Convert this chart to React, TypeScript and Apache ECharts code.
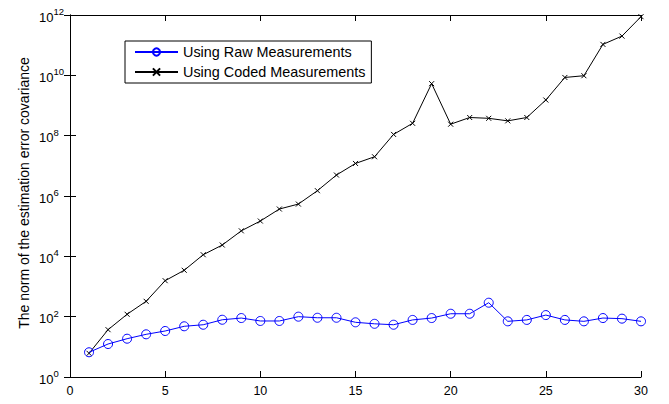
import React, { useEffect, useRef } from "react";
import * as echarts from "echarts";

const steps = [1, 2, 3, 4, 5, 6, 7, 8, 9, 10, 11, 12, 13, 14, 15, 16, 17, 18, 19, 20, 21, 22, 23, 24, 25, 26, 27, 28, 29, 30];
const rawValues = [6.6, 12.4, 18.6, 26, 33.5, 48, 54, 79, 90, 72, 72, 100, 92, 92, 65, 58, 54, 78, 90, 125, 125, 290, 70, 78, 113, 78, 70, 90, 86, 70];
const codedValues = [6.1, 37, 120, 323, 1560, 3450, 11300, 23700, 70000, 148000, 370000, 540000, 1.5e6, 4.95e6, 1.2e7, 2.0e7, 1.1e8, 2.57e8, 5.3e9, 2.4e8, 4.0e8, 3.76e8, 3.1e8, 4.0e8, 1.52e9, 8.5e9, 9.7e9, 1.06e11, 2.0e11, 8.8e11];
const seriesNames = ["Using Raw Measurements", "Using Coded Measurements"];
const yTitle = "The norm of the estimation error covariance";

const FONT = "'Liberation Sans', Arial, sans-serif";

export default function App() {
  const ref = useRef<HTMLDivElement>(null);
  useEffect(() => {
    if (!ref.current) return;
    const chart = echarts.init(ref.current, null, { renderer: "svg" });
    const axisLine = { show: true, lineStyle: { color: "#000", width: 1 } };
    const tick = { show: true, inside: true, length: 6, lineStyle: { color: "#000", width: 1 } };
    const supFmt = (v: number) => "{base|10}{sup|" + Math.round(Math.log10(v)) + "}";
    chart.setOption({
      animation: false,
      textStyle: { fontFamily: FONT },
      grid: { left: 70, right: 28, top: 15, bottom: 27, containLabel: false, outerBoundsMode: "none" },
      legend: {
        left: 125,
        top: 41,
        orient: "vertical",
        itemWidth: 43,
        itemHeight: 9,
        itemGap: 6,
        padding: [4, 6, 4, 9],
        borderColor: "#000",
        borderWidth: 1,
        backgroundColor: "#fff",
        textStyle: { fontSize: 14.4, color: "#000", fontFamily: FONT },
        data: seriesNames,
      },
      xAxis: [
        {
          type: "value",
          min: 0,
          max: 30,
          interval: 5,
          axisLine,
          axisTick: tick,
          splitLine: { show: false },
          axisLabel: { fontSize: 12.5, color: "#000", margin: 7, fontFamily: FONT },
        },
        {
          type: "value",
          position: "top",
          min: 0,
          max: 30,
          interval: 5,
          axisLine,
          axisTick: tick,
          splitLine: { show: false },
          axisLabel: { show: false },
        },
      ],
      yAxis: [
        {
          type: "log",
          logBase: 10,
          min: 1,
          max: 1e12,
          interval: 2,
          axisLine,
          axisTick: tick,
          splitLine: { show: false },
          minorTick: { show: false },
          axisLabel: {
            color: "#000",
            margin: 31,
            align: "left",
            fontFamily: FONT,
            fontSize: 13,
            formatter: supFmt,
            rich: {
              base: { fontSize: 13, padding: [4, 0, 0, 0], fontFamily: FONT, color: "#000" },
              sup: { fontSize: 9.5, padding: [0, 0, 7, 0], fontFamily: FONT, color: "#000" },
            },
          },
        },
        {
          type: "log",
          logBase: 10,
          position: "right",
          min: 1,
          max: 1e12,
          interval: 2,
          axisLine,
          axisTick: tick,
          splitLine: { show: false },
          axisLabel: { show: false },
        },
      ],
      graphic: [
        {
          type: "text",
          x: 24,
          y: 193,
          rotation: Math.PI / 2,
          style: { text: yTitle, font: "14px " + FONT, fill: "#000", align: "center", verticalAlign: "middle" },
        },
      ],
      series: [
        {
          name: seriesNames[0],
          type: "line",
          data: steps.map((s, i) => [s, rawValues[i]]),
          symbol: "circle",
          symbolSize: 9,
          lineStyle: { color: "#0000ff", width: 1 },
          itemStyle: { color: "rgba(255,255,255,0)", borderColor: "#0000ff", borderWidth: 1 },
          z: 3,
        },
        {
          name: seriesNames[1],
          type: "line",
          data: steps.map((s, i) => [s, codedValues[i]]),
          symbol: "path://M0,0L10,10M10,0L0,10",
          symbolSize: 5,
          lineStyle: { color: "#000", width: 1 },
          itemStyle: { color: "#000", borderColor: "#000", borderWidth: 1 },
          z: 2,
        },
      ],
    });
    return () => chart.dispose();
  }, []);
  return <div ref={ref} style={{ position: "absolute", left: 0, top: 0, width: 669, height: 404 }} />;
}
